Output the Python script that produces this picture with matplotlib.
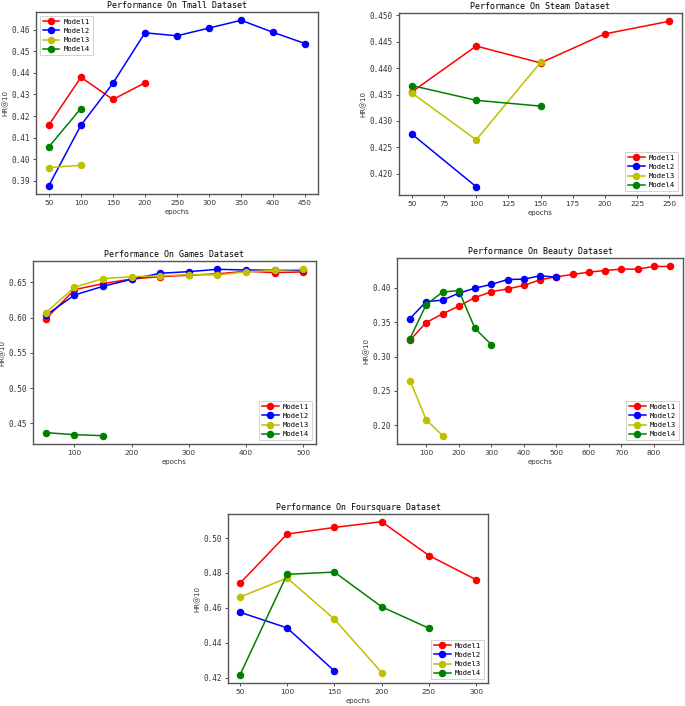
import matplotlib
matplotlib.use("Agg")
import matplotlib.pyplot as plt

models = ["Model1", "Model2", "Model3", "Model4"]
colors = ["r", "b", "y", "g"]

# Tmall
tmall_x = [[50, 100, 150, 200],
           [50, 100, 150, 200, 250, 300, 350, 400, 450],
           [50, 100],
           [50, 100]]
tmall_y = [[0.4158, 0.4380, 0.4277, 0.4354],
           [0.3877, 0.4157, 0.4352, 0.4586, 0.4572, 0.4608, 0.4644, 0.4588, 0.4536],
           [0.3961, 0.3972],
           [0.4057, 0.4235]]

# Steam
steam_x = [[50, 100, 150, 200, 250],
           [50, 100],
           [50, 100, 150],
           [50, 100, 150]]
steam_y = [[0.4355, 0.4442, 0.4410, 0.4465, 0.4489],
           [0.4275, 0.4175],
           [0.4353, 0.4264, 0.4411],
           [0.4367, 0.4339, 0.4328]]

# Games
games_x = [[50, 100, 150, 200, 250, 300, 350, 400, 450, 500],
           [50, 100, 150, 200, 250, 300, 350, 400, 450, 500],
           [50, 100, 150, 200, 250, 300, 350, 400, 450, 500],
           [50, 100, 150]]
games_y = [[0.5980, 0.6396, 0.6481, 0.6547, 0.6580, 0.6600, 0.6620, 0.6656, 0.6638, 0.6647],
           [0.6032, 0.6320, 0.6443, 0.6543, 0.6628, 0.6651, 0.6684, 0.6675, 0.6670, 0.6672],
           [0.6070, 0.6429, 0.6552, 0.6580, 0.6590, 0.6610, 0.6605, 0.6647, 0.6670, 0.6684],
           [0.4368, 0.4339, 0.4325]]

# Beauty
beauty_x = [[50, 100, 150, 200, 250, 300, 350, 400, 450, 500, 550, 600, 650, 700, 750, 800, 850],
            [50, 100, 150, 200, 250, 300, 350, 400, 450, 500],
            [50, 100, 150],
            [50, 100, 150, 200, 250, 300]]
beauty_y = [[0.3238, 0.3495, 0.3621, 0.3733, 0.3859, 0.3942, 0.3985, 0.4034, 0.4117, 0.4160,
             0.4194, 0.4228, 0.4252, 0.4272, 0.4272, 0.4311, 0.4311],
            [0.3553, 0.3800, 0.3820, 0.3922, 0.3995, 0.4049, 0.4121, 0.4126, 0.4175, 0.4155],
            [0.2650, 0.2078, 0.1850],
            [0.3262, 0.3757, 0.3937, 0.3961, 0.3408, 0.3175]]

# Foursquare
four_x = [[50, 100, 150, 200, 250, 300],
          [50, 100, 150],
          [50, 100, 150, 200],
          [50, 100, 150, 200, 250]]
four_y = [[0.4740, 0.5023, 0.5061, 0.5094, 0.4900, 0.4761],
          [0.4575, 0.4485, 0.4238],
          [0.4661, 0.4771, 0.4535, 0.4229],
          [0.4213, 0.4792, 0.4805, 0.4606, 0.4483]]

W, H = 685, 706
fig = plt.figure(figsize=(W / 100, H / 100), dpi=100)

MONO = "DejaVu Sans Mono"
SANS = "DejaVu Sans"


def add_ax(left, right, top, bottom):
    return fig.add_axes([left / W, (H - bottom) / H, (right - left) / W, (bottom - top) / H])


panels = [
    ("Performance On Tmall Dataset", tmall_x, tmall_y, (36, 318, 12, 194), "upper left"),
    ("Performance On Steam Dataset", steam_x, steam_y, (399, 682, 13, 195), "lower right"),
    ("Performance On Games Dataset", games_x, games_y, (33, 316, 261, 444), "lower right"),
    ("Performance On Beauty Dataset", beauty_x, beauty_y, (397, 683, 258, 444), "lower right"),
    ("Performance On Foursquare Dataset", four_x, four_y, (228, 488, 514, 683), "lower right"),
]

for title, xs, ys, box, loc in panels:
    ax = add_ax(*box)
    for name, c, x, y in zip(models, colors, xs, ys):
        ax.plot(x, y, color=c, marker="o", markersize=4.4, linewidth=1.1, label=name)
    ax.set_title(title, fontsize=6, family=MONO, pad=3)
    ax.set_xlabel("epochs", fontsize=5, family=SANS, labelpad=2, color="#333333")
    ax.set_ylabel("HR@10", fontsize=5, family=SANS, labelpad=2, color="#333333")
    ax.tick_params(axis="x", labelsize=5.3, length=2.5, width=0.6, pad=2, colors="#333333")
    ax.tick_params(axis="y", labelsize=5.5, length=2.5, width=0.6, pad=2, colors="#333333")
    for lab in ax.get_yticklabels():
        lab.set_family(MONO)
    for lab in ax.get_xticklabels():
        lab.set_family(SANS)
    for sp in ax.spines.values():
        sp.set_color("#555555")
        sp.set_linewidth(1.0)
    leg = ax.legend(loc=loc, prop={"family": MONO, "size": 5.2}, handlelength=2.3,
                    handletextpad=0.6, borderpad=0.45, labelspacing=0.42,
                    fancybox=False, framealpha=1, borderaxespad=0.5)
    leg.get_frame().set_edgecolor("#cccccc")
    leg.get_frame().set_linewidth(0.6)

fig.savefig("out.png", dpi=100)
